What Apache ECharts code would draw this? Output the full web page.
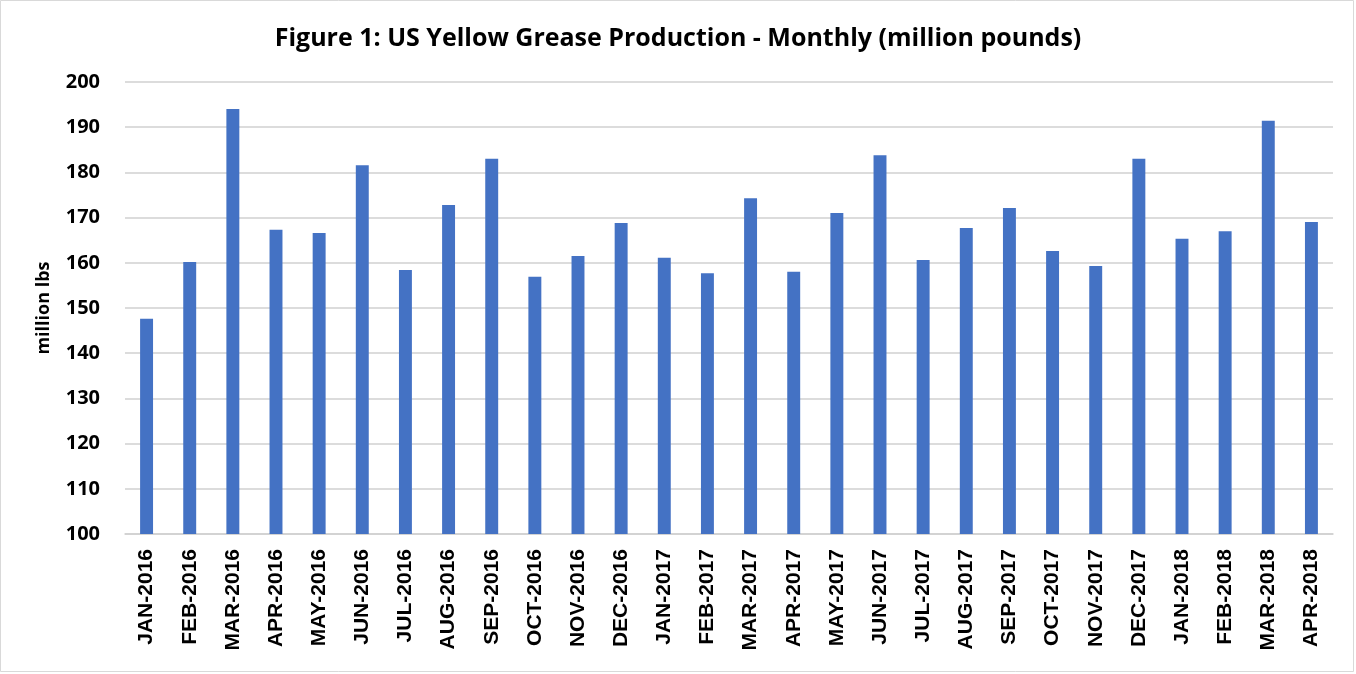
<!DOCTYPE html>
<html><head><meta charset="utf-8">
<script src="https://cdn.jsdelivr.net/npm/echarts@6/dist/echarts.min.js"></script>
<style>html,body{margin:0;padding:0;background:#fff}#c{width:1356px;height:674px}</style>
</head><body><div id="c"></div>
<script>
const categories = ['JAN-2016','FEB-2016','MAR-2016','APR-2016','MAY-2016','JUN-2016','JUL-2016','AUG-2016','SEP-2016','OCT-2016','NOV-2016','DEC-2016','JAN-2017','FEB-2017','MAR-2017','APR-2017','MAY-2017','JUN-2017','JUL-2017','AUG-2017','SEP-2017','OCT-2017','NOV-2017','DEC-2017','JAN-2018','FEB-2018','MAR-2018','APR-2018'];
const production = [147.6,160.2,194.0,167.3,166.6,181.6,158.4,172.8,183.0,156.9,161.5,168.8,161.1,157.7,174.3,158.0,171.0,183.8,160.6,167.7,172.1,162.6,159.3,183.0,165.3,167.0,191.4,169.0];
const titleText = 'Figure 1: US Yellow Grease Production - Monthly (million pounds)';
const yAxisName = 'million lbs';

const chart = echarts.init(document.getElementById('c'), null, {renderer:'canvas'});
chart.setOption({
  animation:false,
  backgroundColor:'#fff',
  graphic:[{type:'rect',shape:{x:0.5,y:0.5,width:1353,height:671},style:{fill:'none',stroke:'#d9d9d9',lineWidth:1},silent:true}],
  title:{text:titleText,left:'center',top:21,textStyle:{fontFamily:'Open Sans',fontWeight:'bold',fontSize:25,color:'#000'}},
  grid:{left:125,right:23,top:82,bottom:140},
  xAxis:{type:'category',data:categories,
    axisLine:{show:true,lineStyle:{color:'#d0d0d0',width:1.5}},
    axisTick:{show:false},
    axisLabel:{rotate:90,interval:0,margin:15,fontFamily:'Liberation Sans',fontWeight:'bold',fontSize:21,color:'#000'}},
  yAxis:{type:'value',min:100,max:200,interval:10,
    name:yAxisName,nameLocation:'middle',nameGap:72,nameRotate:90,
    nameTextStyle:{fontFamily:'Open Sans',fontWeight:'bold',fontSize:18,color:'#000'},
    axisLine:{show:false},axisTick:{show:false},
    splitLine:{lineStyle:{color:'#d0d0d0',width:1.5}},
    axisLabel:{margin:25,fontFamily:'Open Sans',fontWeight:'bold',fontSize:20,color:'#000'}},
  series:[{type:'bar',data:production,barWidth:'30%',itemStyle:{color:'#4472C4'}}]
});
</script></body></html>
